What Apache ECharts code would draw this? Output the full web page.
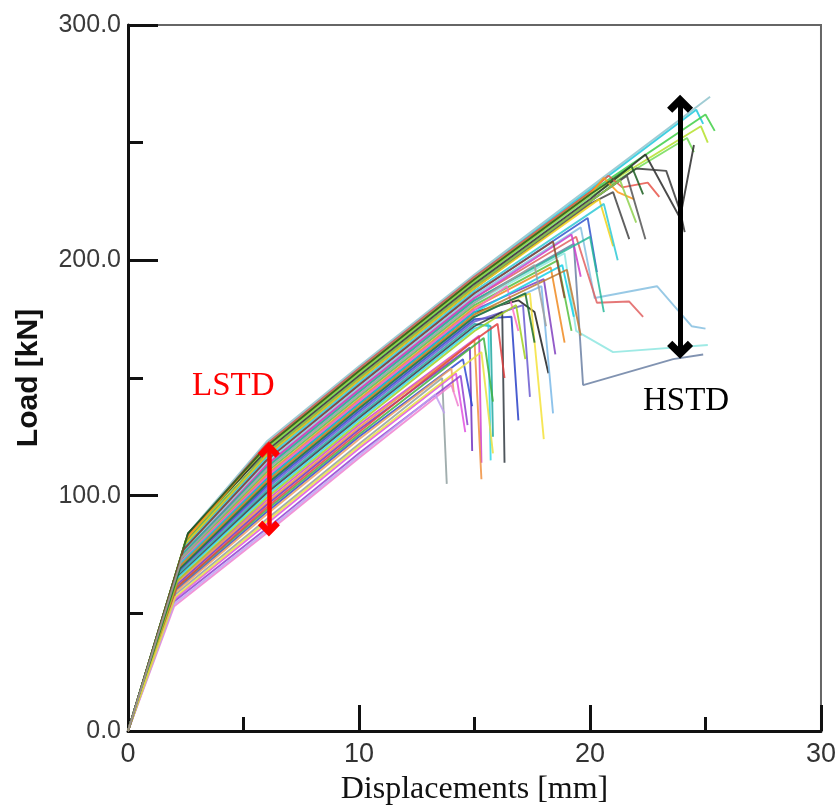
<!DOCTYPE html>
<html>
<head>
<meta charset="utf-8">
<script src="https://cdn.jsdelivr.net/npm/echarts@6/dist/echarts.min.js"></script>
<style>
html,body{margin:0;padding:0;background:#fff;}
#chart{width:839px;height:812px;}
</style>
</head>
<body>
<div id="chart"></div>
<script>
// ---- axis ticks ----
const xTicks = [0, 10, 20, 30];
const yTicks = [0, 100, 200, 300];

// ---- load–displacement curves ----
// knee of each curve
const kneeX = [2.6,2.6,2.55,2.5,2.5,2.6,2.5,2.6,2.55,2.5,2.45,2.5,2.45,2.45,2.4,2.4,2.4,2.35,2.35,2.4,2.35,2.3,2.3,2.3,2.25,2.25,2.25,2.2,2.2,2.3,2.25,2.25,2.2,2.2,2.15,2.15,2.1,2.1,2.05,2.1,2.05,2.0,2.0,2.0,2.0,2.1,2.1,2.15,2.25,2.05,2.6,2.4,2.35];
const kneeY = [84,83,82,81,81,84,80,83,82,80,79,80,79,78,77,76,75,75,74,75,75,73,72,72,71,70,69,68,68,72,71,70,67,66,65,64,63,62,58,60,59,56,55,53,54,61,61,64,69,57,84,77,74];
// load at 6 mm
const load6 = [123,122,121,120,120,119,118,122,121,118,117,118,117,116,115,114,113,112,111,113,112,110,109,108,107,106,105,104,103,108,107,106,102,101,100,98,97,96,90,93,92,88,86,84,85,94,95,99,105,89,121,115,111];
// load at 10 mm
const load10 = [155,154,153,152,152,151,150,154,153,150,149,150,149,148,147,146,145,144,143,145,144,142,141,140,139,138,137,136,135,140,139,138,134,133,132,130,129,128,122,125,124,120,118,116,117,126,127,131,137,121,153,147,143];
// load at 15 mm (null when the curve failed before)
const load15 = [194,193,192,191,191,190,189,193,192,189,188,189,188,187,186,185,184,183,182,184,183,181,180,179,178,177,176,175,174,179,178,177,173,172,171,null,null,null,null,null,null,null,null,null,null,null,166,170,176,null,192,186,182];
// load at 20 mm (null when the curve failed before)
const load20 = [231,230,229,228,227,226,225,229,228,225,224,225,null,null,null,null,null,null,null,null,null,null,null,null,null,null,null,null,null,null,null,null,null,null,null,null,null,null,null,null,null,null,null,null,null,null,null,null,null,null,228,null,null];
// peak of each curve
const peakX = [25.2,24.6,25.0,24.8,24.2,22.4,22.0,20.8,20.6,21.6,21.0,21.3,20.4,20.6,19.9,19.6,19.4,19.3,18.9,19.2,20.0,18.6,18.3,18.0,16.9,17.4,17.9,16.6,17.1,16.4,18.8,19.0,15.7,16.2,15.6,15.2,15.0,14.8,13.6,14.5,14.0,14.2,14.4,14.0,13.3,15.4,16.0,16.8,17.2,15.3,21.8,18.4,17.6];
const peakY = [269.5,264,262,257,252,245,239,236,235,236,229,234,226,224,218,214,210,207,203,211,210,200,197,192,183,186,189,176,181,189,198,196,172,178,173,168,166,163,150,158,154,152,151,147,143,167,173,181,186,161,240,208,198];
// post-peak points of each curve
const postPeak = [
  [], [[24.9,258]], [[25.4,255]], [[25.1,250]], [[24.5,246]],
  [[23.9,218],[24.5,249]], [[23.3,238],[23.9,221],[24.1,212]],
  [[21.4,231],[22.5,233],[23.0,227]], [[21.2,229],[21.9,226]],
  [[22.4,209]], [[21.7,209]], [[22.0,216]], [[21.0,206]], [[21.2,200]], [[20.3,195]],
  [[20.2,184],[22.9,189],[24.4,172],[25.0,171]],
  [[20.3,182],[21.7,182.5],[22.3,176]],
  [[19.7,147],[23.6,158],[24.9,160]],
  [[19.4,170],[21.0,161],[25.1,164]],
  [[19.6,193]], [[20.6,178]], [[19.2,170]], [[18.9,165]], [[18.5,160]],
  [[17.6,178],[18.2,152]], [[18.0,124]], [[18.4,135]], [[16.9,132]], [[17.4,142]],
  [[16.9,170]], [[19.3,176]], [[19.6,168]], [[15.8,125]], [[16.3,114]], [[15.7,115]],
  [[15.3,114]], [[15.3,107]], [[14.9,119]], [[13.8,105]], [[14.9,138]], [[14.1,144]],
  [[14.6,127]], [[14.7,130]], [[14.3,138]], [[13.7,135]], [[15.8,140]], [[16.3,150]],
  [[17.2,158]], [[17.6,165]], [[15.8,118]], [[22.3,228]], [[18.9,184]], [[18.1,172]]
];
const lineColors = ['#8fc3cc','#1ec8dc','#3fcf45','#b5e02a','#72dc55','#2a2a2a','#3a3a3a','#e8554a','#ff9a1a','#555555','#444444','#8fd14f','#f2d21a','#2ec9d6','#3355cc','#86bfe0','#e06060','#6b80a3','#8ee6e0','#cc40cc','#27b89a','#55c040','#f08a20','#8040c0','#1f1f1f','#f5e23a','#7ab8e8','#2840c8','#6a5ad0','#ff70c8','#18d0e8','#c07830','#20a8a0','#303840','#30d8e8','#d040d0','#f09040','#7030c0','#90a0a0','#3048d0','#f0a060','#e050e0','#9040d0','#f080d0','#c0a0f0','#40b040','#e04040','#a0d020','#1c6e30','#e8e040','#1b5e20','#8b4a2b','#a0a0a0'];

// ---- annotation arrows (x, low, high) ----
const lstdArrow = [6.1, 86, 119.5];
const hstdArrow = [23.9, 162, 266.5];

const chevron = 'path://M5,0 L10,5 L8,7 L5,4 L2,7 L0,5 Z';

const series = [];
for (let i = 0; i < kneeX.length; i++) {
  const pts = [[0, 0], [kneeX[i], kneeY[i]], [6, load6[i]], [10, load10[i]]];
  if (load15[i] !== null) pts.push([15, load15[i]]);
  if (load20[i] !== null) pts.push([20, load20[i]]);
  pts.push([peakX[i], peakY[i]]);
  postPeak[i].forEach(p => pts.push(p));
  series.push({
    type: 'line', data: pts, symbol: 'none', silent: true,
    lineStyle: { color: lineColors[i], width: 1.9, opacity: 0.85 },
    z: 2
  });
}
function arrowSeries(a, color, width, size) {
  return {
    type: 'line', data: [], silent: true, z: 10,
    markLine: {
      silent: true, animation: false,
      symbol: [chevron, chevron], symbolSize: size,
      label: { show: false },
      lineStyle: { color: color, width: width, type: 'solid' },
      emphasis: { disabled: true },
      data: [[{ coord: [a[0], a[1]] }, { coord: [a[0], a[2]] }]]
    }
  };
}
series.push(arrowSeries(lstdArrow, '#ff0000', 4.5, [22, 16]));
series.push(arrowSeries(hstdArrow, '#000000', 5, [26, 18]));

const chart = echarts.init(document.getElementById('chart'), null, { renderer: 'canvas' });
chart.setOption({
  animation: false,
  backgroundColor: '#ffffff',
  grid: { left: 128, right: 17, top: 25, bottom: 81, show: true, borderColor: '#666', borderWidth: 2, backgroundColor: 'transparent' },
  xAxis: {
    type: 'value', min: xTicks[0], max: xTicks[xTicks.length - 1], interval: 10,
    name: 'Displacements [mm]', nameLocation: 'middle', nameGap: 43,
    nameTextStyle: { fontFamily: 'Liberation Serif', fontSize: 32, color: '#111' },
    axisLine: { show: true, lineStyle: { color: '#111', width: 3 } },
    axisTick: { show: true, inside: true, length: 26, lineStyle: { color: '#111', width: 3 } },
    minorTick: { show: true, splitNumber: 2, length: 14, lineStyle: { color: '#111', width: 3 } },
    splitLine: { show: false }, minorSplitLine: { show: false },
    axisLabel: { fontFamily: 'Liberation Sans', fontSize: 27, color: '#333', margin: 10 }
  },
  yAxis: {
    type: 'value', min: yTicks[0], max: yTicks[yTicks.length - 1], interval: 100,
    name: 'Load [kN]', nameLocation: 'middle', nameGap: 84, nameRotate: 90,
    nameTextStyle: { fontFamily: 'Liberation Sans', fontSize: 30, fontWeight: 'bold', color: '#111' },
    axisLine: { show: true, lineStyle: { color: '#111', width: 3 } },
    axisTick: { show: true, inside: true, length: 30, lineStyle: { color: '#111', width: 3 } },
    minorTick: { show: true, splitNumber: 2, length: 15, lineStyle: { color: '#111', width: 3 } },
    splitLine: { show: false }, minorSplitLine: { show: false },
    axisLabel: { fontFamily: 'Liberation Sans', fontSize: 25, color: '#3a3a3a', margin: 7,
      formatter: v => v.toFixed(1) }
  },
  graphic: [
    { type: 'text', left: 192, top: 370, silent: true,
      style: { text: 'LSTD', fill: '#ff0000', font: '33px "Liberation Serif"' } },
    { type: 'text', left: 643, top: 385, silent: true,
      style: { text: 'HSTD', fill: '#000000', font: '33px "Liberation Serif"' } }
  ],
  series: series
});
</script>
</body>
</html>
